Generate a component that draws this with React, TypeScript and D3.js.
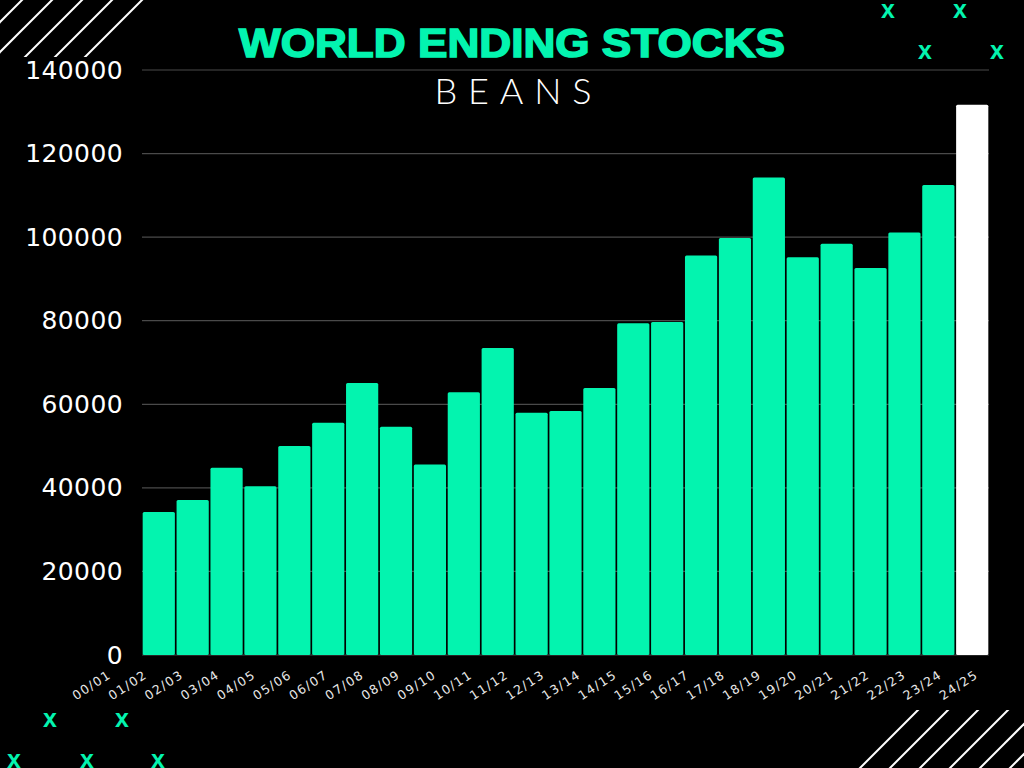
import { useEffect, useRef } from 'react';
import * as d3 from 'd3';

const seasons = [
  '00/01', '01/02', '02/03', '03/04', '04/05', '05/06', '06/07', '07/08', '08/09', '09/10',
  '10/11', '11/12', '12/13', '13/14', '14/15', '15/16', '16/17', '17/18', '18/19', '19/20',
  '20/21', '21/22', '22/23', '23/24', '24/25',
];

const stocks = [
  34200, 37100, 44800, 40400, 50000, 55600, 65100, 54600, 45600, 62900,
  73500, 58000, 58400, 63900, 79400, 79700, 95600, 99800, 114300, 95200,
  98400, 92600, 101100, 112500, 131700,
];

const yTicks = [0, 20000, 40000, 60000, 80000, 100000, 120000, 140000];

const GREEN = '#03F4AF';

export default function App() {
  const svgRef = useRef<SVGSVGElement>(null);
  const width = 1024;
  const height = 768;

  useEffect(() => {
    if (!svgRef.current) return;
    const svg = d3.select(svgRef.current);
    svg.selectAll('*').remove();

    const margin = { top: 70, right: 35, bottom: 113, left: 142 };
    const innerWidth = width - margin.left - margin.right;
    const innerHeight = height - margin.top - margin.bottom;

    svg.append('rect').attr('width', width).attr('height', height).attr('fill', '#000');

    // corner hatching
    const defs = svg.append('defs');
    defs.append('clipPath').attr('id', 'clip-tl')
      .append('rect').attr('x', 0).attr('y', 0).attr('width', 150).attr('height', 57);
    defs.append('clipPath').attr('id', 'clip-br')
      .append('rect').attr('x', 840).attr('y', 710).attr('width', 184).attr('height', 58);

    const tl = svg.append('g').attr('clip-path', 'url(#clip-tl)');
    [22, 52, 82, 112, 142].forEach(c => {
      tl.append('line')
        .attr('x1', c - 80).attr('y1', 80)
        .attr('x2', c + 10).attr('y2', -10)
        .attr('stroke', '#fff').attr('stroke-width', 2);
    });
    const br = svg.append('g').attr('clip-path', 'url(#clip-br)');
    [1628, 1658, 1688, 1718, 1748, 1778].forEach(c => {
      br.append('line')
        .attr('x1', c - 800).attr('y1', 800)
        .attr('x2', c - 690).attr('y2', 690)
        .attr('stroke', '#fff').attr('stroke-width', 2);
    });

    const xMarks = [
      [888, 9], [960, 9], [925, 50], [997, 50],
      [50, 718], [122, 718], [14, 759], [87, 759], [158, 759],
    ];
    svg.selectAll('.xmark')
      .data(xMarks)
      .enter()
      .append('text')
      .attr('class', 'xmark')
      .attr('x', d => d[0])
      .attr('y', d => d[1])
      .attr('text-anchor', 'middle')
      .attr('dominant-baseline', 'central')
      .attr('fill', GREEN)
      .attr('font-family', 'Liberation Sans, Arial, sans-serif')
      .attr('font-weight', 'bold')
      .attr('font-size', '25px')
      .text('x');

    const g = svg.append('g').attr('transform', `translate(${margin.left},${margin.top})`);

    const xScale = d3.scaleBand<string>()
      .domain(seasons)
      .range([0, innerWidth])
      .paddingInner(0.05)
      .paddingOuter(0.02);

    const yScale = d3.scaleLinear().domain([0, 140000]).range([innerHeight, 0]);

    g.selectAll('.grid')
      .data(yTicks)
      .enter()
      .append('line')
      .attr('class', 'grid')
      .attr('x1', 0)
      .attr('x2', innerWidth)
      .attr('y1', d => yScale(d))
      .attr('y2', d => yScale(d))
      .attr('stroke', '#4a4a4a')
      .attr('stroke-width', 1.2);

    g.selectAll('.bar')
      .data(stocks)
      .enter()
      .append('rect')
      .attr('class', 'bar')
      .attr('x', (_, i) => xScale(seasons[i])!)
      .attr('y', d => yScale(d))
      .attr('width', xScale.bandwidth())
      .attr('height', d => innerHeight - yScale(d))
      .attr('rx', 1.5)
      .attr('fill', (_, i) => (i === stocks.length - 1 ? '#ffffff' : GREEN));

    g.selectAll('.ylabel')
      .data(yTicks)
      .enter()
      .append('text')
      .attr('class', 'ylabel')
      .attr('x', -19)
      .attr('y', d => yScale(d))
      .attr('text-anchor', 'end')
      .attr('dominant-baseline', 'central')
      .attr('fill', '#fff')
      .attr('font-family', 'DejaVu Sans, sans-serif')
      .attr('font-size', '25px')
      .attr('letter-spacing', '0.4px')
      .text(d => `${d}`);

    // category labels sit on their own evenly spaced positions
    const labelScale = d3.scalePoint<string>().domain(seasons).range([112, 979]);
    svg.selectAll('.xlabel')
      .data(seasons)
      .enter()
      .append('text')
      .attr('class', 'xlabel')
      .attr('transform', d => `translate(${labelScale(d)},677) rotate(-33)`)
      .attr('text-anchor', 'end')
      .attr('fill', '#e8e8e8')
      .attr('font-family', 'DejaVu Sans, sans-serif')
      .attr('font-size', '12.5px')
      .attr('letter-spacing', '1.4px')
      .text(d => d);

    svg.append('text')
      .attr('x', 512)
      .attr('y', 57)
      .attr('text-anchor', 'middle')
      .attr('fill', GREEN)
      .attr('stroke', GREEN)
      .attr('stroke-width', 1.6)
      .attr('font-family', 'Liberation Sans, Arial, sans-serif')
      .attr('font-weight', 'bold')
      .attr('font-size', '41px')
      .attr('textLength', 546)
      .attr('lengthAdjust', 'spacingAndGlyphs')
      .text('WORLD ENDING STOCKS');

    svg.append('text')
      .attr('x', 513)
      .attr('y', 104)
      .attr('text-anchor', 'middle')
      .attr('fill', '#fff')
      .attr('font-family', 'Lato, Open Sans, sans-serif')
      .attr('font-weight', 300)
      .attr('font-size', '36px')
      .attr('textLength', 157)
      .attr('lengthAdjust', 'spacing')
      .text('BEANS');
  }, []);

  return (
    <svg
      ref={svgRef}
      width={width}
      height={height}
      style={{ position: 'absolute', left: 0, top: 0, display: 'block' }}
    />
  );
}
